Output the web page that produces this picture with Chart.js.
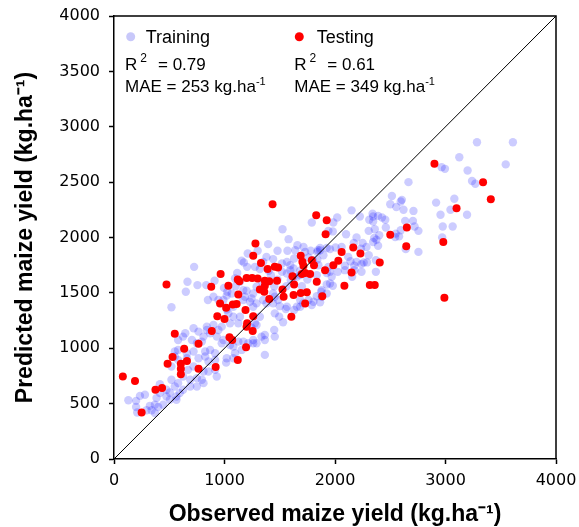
<!DOCTYPE html>
<html><head><meta charset="utf-8">
<script src="https://cdn.jsdelivr.net/npm/chart.js@4.4.1/dist/chart.umd.min.js"></script>
<style>html,body{margin:0;padding:0;background:#fff}</style>
</head><body>
<canvas id="c" width="579" height="527" style="display:block;width:579px;height:527px"></canvas>
<script>
const seriesNames = ['Training', 'Testing'];
const r2Values = ['0.79', '0.61'];
const maeValues = ['253', '349'];
const xTitle = 'Observed maize yield (kg.ha\u207B\u00B9)';
const yTitle = 'Predicted maize yield (kg.ha\u207B\u00B9)';
const axisMin = 0, axisMax = 4000;
const oneToOneX = [0, 4000];
const oneToOneY = [0, 4000];

const trainObserved = [
3285,3610,3125,3545,2965,2995,3200,3240,3270,2665,2515,2605,2595,2500,2555,2620,2710,2915,3080,3045,2955,3195,2150,2020,2225,2340,2390,2425,2455,2310,2345,2635,2705,2975,3065,2460,2595,2720,2755,2305,2360,2400,2355,2375,2100,2545,2580,2970,1980,2250,2285,2235,2390,2640,2755,2005,2060,2120,2140,2090,2175,2305,2260,2290,2370,2370,2240,2025,1970,1980,2155,
2345,1985,1790,2345,2550,2195,2170,1925,1955,1865,1840,1895,2195,2240,1800,1850,1940,1955,2090,2175,1880,1925,1835,1880,
1525,1580,1940,1395,1480,1570,1660,1640,1715,1780,1865,1210,1300,1380,725,1155,1175,1205,1275,1320,1440,1520,1565,1630,1520,1565,1625,1685,665,755,835,910,650,850,1020,1065,1200,1260,1290,1115,1095,1875,1955,1835,1925,
1595,1625,1730,1760,1845,1840,1595,1685,1655,1600,995,1025,1170,900,945,990,1170,1245,1290,1260,1455,1485,1440,1500,1565,1685,1760,1805,1655,1080,1020,
520,1185,1230,1350,1380,1440,1455,1450,1455,1320,1275,1365,1365,1365,1260,1290,1140,1125,1050,1080,1035,975,945,900,930,990,975,1125,1080,1155,1095,1080,1020,1015,840,870,720,765,810,625,705,750,795,580,580,660,720,825,870,915,550,660,765,825,855,915,520,670,720,810,855,520,625,690,750,810,750,690,475,550,595,625,385,475,505,565,370,400,445,340,
130,200,235,280,325,295,200,210,370,415,415,505,565,580,645,840,550,580,795,930,915,1245,1290,1335,1260,1215,1050,1170,1530,1630,1685,1790,1865,
1495,1555,1710,1925,
1100,1140,1340,1420,1450,1560,1700,1750,1400,1350,1480
];
const trainPredicted = [
2860,2860,2725,2660,2635,2620,2605,2510,2485,2500,2375,2340,2325,2300,2275,2250,2240,2315,2350,2250,2205,2205,2245,2180,2190,2215,2195,2180,2160,2160,2145,2150,2150,2100,2100,2090,2065,2100,2060,2060,2075,2020,1995,1980,2030,2005,2010,2000,2055,1950,1915,1900,1925,1895,1870,1910,1915,1825,1785,1745,1745,1840,1775,1775,1795,1690,1690,1690,1645,1565,1645,
2190,2135,2135,1960,2035,2000,1950,1905,1895,1905,1870,1840,1780,1760,1795,1750,1735,1690,1705,1705,1525,1495,1470,1465,
2075,1985,2060,1940,1880,1880,1930,1885,1915,1880,1885,1855,1880,1825,1735,1790,1775,1735,1735,1715,1805,1765,1780,1810,1690,1675,1645,1660,1600,1570,1570,1610,1510,1435,1475,1495,1520,1495,1555,1680,1630,1510,1585,1660,1680,
1750,1720,1870,1820,1885,1800,1705,1700,1645,1615,1545,1510,1525,1465,1435,1435,1435,1450,1405,1375,1465,1435,1405,1380,1375,1435,1435,1420,1375,1375,1350,
1370,1465,1420,1435,1405,1495,1315,1165,1105,1285,1225,1120,1075,940,1075,1045,1285,1225,1225,1285,1315,1195,1165,1210,1105,1075,1045,1060,1015,985,955,910,910,870,1165,1135,1180,1150,1105,1105,1075,1045,1060,1075,985,955,970,970,985,955,925,910,910,925,880,895,835,805,835,790,790,715,745,715,730,685,655,655,625,655,595,625,550,565,535,565,490,470,490,440,
530,525,570,580,480,440,470,420,415,675,595,600,535,685,1135,1195,970,895,715,745,805,1185,1210,1105,1045,1045,1030,1060,1235,1345,1375,1390,1415,
1285,1355,1405,1575,
1560,1600,1600,1660,1560,1560,1560,1620,1700,1780,1620
];

const testObserved = [
80,190,250,375,435,485,530,550,605,660,605,605,635,765,765,885,920,1045,1070,1120,1195,960,1015,935,1000,1075,1110,1125,1190,1260,1205,1200,1255,1405,1360,1535,1605,1625,1690,1745,1730,1885,1435,1830,1925,1915,1280,1260,1330,1390,1455,1485,965,475,880,1035,1120,1135,1200,1250,1300,1365,1405,1475,1365,1320,1525,1630,1690,1705,1715,1730,1775,1790,1810,1835,1615,1700,1910,2060,2165,2230,2030,1985,2150,2405,2500,2650,2645,2085,2315,2360,2900,3340,3410,3100,2980,2990
];
const testPredicted = [
745,705,420,625,640,860,920,1130,860,885,815,765,995,815,1040,1155,830,1100,1075,895,1010,1405,1365,1290,1265,1395,1400,1485,1345,1290,1225,1195,1155,1445,1510,1465,1285,1480,1500,1505,1405,1470,2300,2200,2155,2030,1945,1835,1770,1715,1735,1730,1670,1575,1555,1565,1620,1605,1635,1635,1630,1610,1605,1610,1565,1530,1530,1575,1835,1780,1745,1680,1670,1795,1750,1600,1650,1670,1705,1870,1910,1855,1790,1750,1685,1775,2025,2090,1920,1565,1570,1570,2665,2500,2345,2265,1960,1455
];

const trainColor = 'rgba(0,0,255,0.2)';
const testColor = '#ff0000';

function zip(xs, ys){ return xs.map((x,i)=>({x:x, y:ys[i]})); }

const annotPlugin = {
  id: 'annot',
  afterDraw(chart){
    const ctx = chart.ctx, a = chart.chartArea;
    ctx.save();
    ctx.strokeStyle = '#000'; ctx.lineWidth = 1.5;
    ctx.beginPath();
    ctx.moveTo(a.left, a.top); ctx.lineTo(a.right, a.top); ctx.lineTo(a.right, a.bottom);
    ctx.stroke();
    const colX = [a.left + 11, a.left + 180.3];
    const markX = [a.left + 16.7, a.left + 185.3];
    const nameX = [a.left + 31.7, a.left + 202.7];
    const colors = ['rgba(200,200,250,1)', testColor];
    ctx.textBaseline = 'alphabetic';
    for (let i = 0; i < 2; i++) {
      ctx.beginPath();
      ctx.fillStyle = colors[i];
      ctx.arc(markX[i], a.top + 20.7, 4.5, 0, Math.PI*2);
      ctx.fill();
      ctx.fillStyle = '#000';
      ctx.font = '18px "Liberation Sans", Arial, sans-serif';
      ctx.fillText(seriesNames[i], nameX[i], a.top + 26.5);
      ctx.font = '17px "Liberation Sans", Arial, sans-serif';
      ctx.fillText('R', colX[i], a.top + 54);
      const rw = ctx.measureText('R').width;
      ctx.font = '12px "Liberation Sans", Arial, sans-serif';
      ctx.fillText('2', colX[i] + rw + 3, a.top + 46);
      ctx.font = '17px "Liberation Sans", Arial, sans-serif';
      ctx.fillText('= ' + r2Values[i], colX[i] + 33, a.top + 54);
      const mae = 'MAE = ' + maeValues[i] + ' kg.ha';
      ctx.fillText(mae, colX[i], a.top + 75.7);
      const mw = ctx.measureText(mae).width;
      ctx.font = '11px "Liberation Sans", Arial, sans-serif';
      ctx.fillText('-1', colX[i] + mw, a.top + 69);
    }
    ctx.restore();
  }
};

new Chart(document.getElementById('c'), {
  type: 'scatter',
  data: {
    datasets: [
      { type: 'line', label: '1:1', data: zip(oneToOneX, oneToOneY), borderColor: '#000', borderWidth: 1, pointRadius: 0, fill: false, order: 0 },
      { label: seriesNames[1], data: zip(testObserved, testPredicted), backgroundColor: testColor, borderWidth: 0, pointRadius: 4, order: 1 },
      { label: seriesNames[0], data: zip(trainObserved, trainPredicted), backgroundColor: trainColor, borderWidth: 0, pointRadius: 4.2, order: 2 }
    ]
  },
  options: {
    responsive: false,
    animation: false,
    devicePixelRatio: 1,
    layout: { padding: { left: 0, right: 23, top: 16, bottom: 0 } },
    plugins: { legend: { display: false }, tooltip: { enabled: false } },
    scales: {
      x: {
        type: 'linear', min: axisMin, max: axisMax,
        afterFit: s => { s.height = 68; s.paddingLeft = 0; s.paddingRight = 0; },
        grid: { drawOnChartArea: false, drawTicks: true, tickLength: 5, color: '#000', tickWidth: 1.5 },
        border: { color: '#000', width: 1.5 },
        ticks: { stepSize: 1000, color: '#000', padding: 7, maxRotation: 0, callback: v => String(v), font: { family: 'DejaVu Sans', size: 16 } },
        title: { display: true, text: xTitle, color: '#000', padding: { top: 2, bottom: -1 }, font: { family: 'Liberation Sans, Arial', size: 23, weight: 'bold' } }
      },
      y: {
        type: 'linear', min: axisMin, max: axisMax,
        afterFit: s => { s.width = 114; s.paddingTop = 0; s.paddingBottom = 0; },
        grid: { drawOnChartArea: false, drawTicks: true, tickLength: 5, color: '#000', tickWidth: 1.5 },
        border: { color: '#000', width: 1.5 },
        ticks: { stepSize: 500, color: '#000', padding: 9, callback: v => String(v), font: { family: 'DejaVu Sans', size: 16 } },
        title: { display: true, text: yTitle, color: '#000', padding: { top: 12, bottom: 11 }, font: { family: 'Liberation Sans, Arial', size: 23, weight: 'bold' } }
      }
    }
  },
  plugins: [annotPlugin]
});
</script>
</body></html>
